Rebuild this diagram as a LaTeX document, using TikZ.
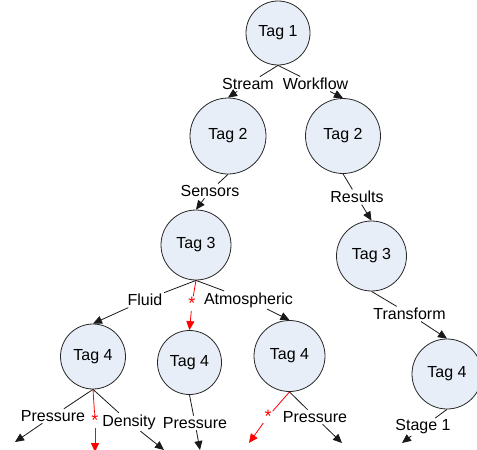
\documentclass[tikz,border=0pt]{standalone}
\usepackage{fontspec}
\setmainfont{Liberation Sans}
\usetikzlibrary{arrows.meta}
\definecolor{nodefill}{RGB}{232,238,247}
\begin{document}
\begin{tikzpicture}[x=1pt,y=-1pt,
  txt/.style={font=\fontsize{16}{19}\selectfont},
  tag/.style={circle, draw=black!85, line width=0.8pt, fill=nodefill, inner sep=0pt, minimum size=#1, txt},
  lab/.style={fill=white, inner sep=1.5pt, txt},
  starlab/.style={text=red, inner sep=1pt, font=\fontsize{18}{19}\selectfont},
  plain/.style={draw=black!90, line width=0.8pt},
  arr/.style={plain, -{Triangle[length=9pt,width=8pt]}},
  rplain/.style={draw=red, line width=0.8pt},
  rarr/.style={rplain, -{Triangle[length=9pt,width=8pt]}}
]
\useasboundingbox (0,0) rectangle (477,450);

% circles
\node[tag=64pt] (t1)  at (278,33)    {Tag 1};
\node[tag=76pt] (t2a) at (228,136)   {Tag 2};
\node[tag=75pt] (t2b) at (343,136)   {Tag 2};
\node[tag=70pt] (t3a) at (196,245)   {Tag 3};
\node[tag=70pt] (t3b) at (371.5,256) {Tag 3};
\node[tag=65pt] (t4a) at (93,356.5)  {Tag 4};
\node[tag=64pt] (t4b) at (189.5,362.5) {Tag 4};
\node[tag=71pt] (t4c) at (289.5,356) {Tag 4};
\node[tag=70pt] (t4d) at (447,374)   {Tag 4};

% labels
\node[lab] (lstream)  at (248,84)    {Stream};
\node[lab] (lwork)    at (315.5,84)  {Workflow};
\node[lab] (lsens)    at (210,191)   {Sensors};
\node[lab] (lres)     at (357,197)   {Results};
\node[lab] (lfluid)   at (145,300)   {Fluid};
\node[starlab] (s1)   at (192,303.5) {*};
\node[lab] (latm)     at (248.5,300) {Atmospheric};
\node[lab] (ltrans)   at (409.5,314) {Transform};
\node[lab] (lpa)      at (53,416)    {Pressure};
\node[starlab] (s2)   at (95,420.5)  {*};
\node[lab] (lden)     at (129,422)   {Density};
\node[lab] (lpb)      at (195,423)   {Pressure};
\node[starlab] (s3)   at (268,416.5) {*};
\node[lab] (lpc)      at (315,417)   {Pressure};
\node[lab] (lst)      at (423,427)   {Stage 1};

% free ends
\coordinate (e1) at (15,442);
\coordinate (e2) at (95,452);
\coordinate (e3) at (164,450);
\coordinate (e4) at (200,450);
\coordinate (e5) at (249,443);
\coordinate (e6) at (342,443);
\coordinate (e7) at (402,443);

% connectors
\draw[plain] (t1.south) -- (lstream);  \draw[arr] (lstream) -- (t2a.north);
\draw[plain] (t1.south) -- (lwork);    \draw[arr] (lwork) -- (t2b.north);
\draw[plain] (t2a.south) -- (lsens);   \draw[arr] (lsens) -- (t3a.north);
\draw[plain] (t2b.south) -- (lres);    \draw[arr] (lres) -- (t3b.north);
\draw[plain] (t3a.south) -- (lfluid);  \draw[arr] (lfluid) -- (t4a.north);
\draw[rplain] (t3a.south) -- (s1);     \draw[rarr] (s1) -- (t4b.north);
\draw[plain] (t3a.south) -- (latm);    \draw[arr] (latm) -- (t4c.north);
\draw[plain] (t3b.south) -- (ltrans);  \draw[arr] (ltrans) -- (t4d.north);
\draw[plain] (t4a.south) -- (lpa);     \draw[arr] (lpa) -- (e1);
\draw[rplain] (t4a.south) -- (s2);     \draw[rarr] (s2) -- (e2);
\draw[plain] (t4a.south) -- (lden);    \draw[arr] (lden) -- (e3);
\draw[plain] (t4b.south) -- (lpb);     \draw[arr] (lpb) -- (e4);
\draw[rplain] (t4c.south) -- (s3);     \draw[rarr] (s3) -- (e5);
\draw[plain] (t4c.south) -- (lpc);     \draw[arr] (lpc) -- (e6);
\draw[plain] (t4d.south) -- (lst);     \draw[arr] (lst) -- (e7);
\end{tikzpicture}
\end{document}
